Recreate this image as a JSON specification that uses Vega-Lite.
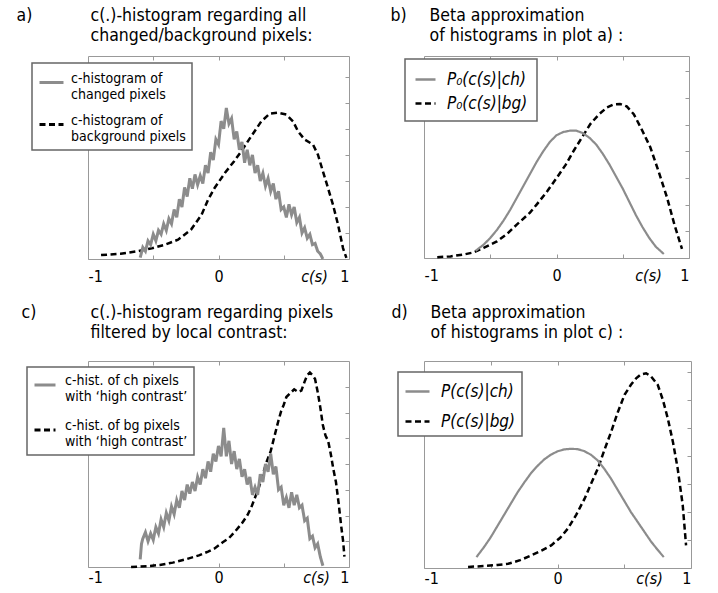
{
  "$schema": "https://vega.github.io/schema/vega-lite/v6.json",
  "padding": {"left": 16, "top": 6, "right": 0, "bottom": 0},
  "config": {
    "font": "DejaVu Sans Condensed",
    "view": {"stroke": null},
    "axis": {"domainColor": "#999999", "tickColor": "#999999", "grid": false, "labelFontSize": 16, "labelColor": "#000000", "titleColor": "#000000", "titleFontSize": 17.5, "titleFontWeight": "normal", "titleLineHeight": 20.5, "labelPadding": 13},
    "legend": {"orient": "none", "fillColor": "#ffffff", "strokeColor": "#666666", "strokeWidth": 1.5, "padding": 6, "title": null, "labelLimit": 300, "labelColor": "#000000"}
  },
  "datasets": {
    "a": [
      {"x": -0.60, "y": 0.05, "s": "ch"}, {"x": -0.58, "y": 0.45, "s": "ch"}, {"x": -0.56, "y": 0.3, "s": "ch"}, {"x": -0.54, "y": 0.7, "s": "ch"}, {"x": -0.52, "y": 0.55, "s": "ch"}, {"x": -0.50, "y": 0.95, "s": "ch"}, {"x": -0.48, "y": 0.7, "s": "ch"}, {"x": -0.46, "y": 1.1, "s": "ch"}, {"x": -0.44, "y": 0.95, "s": "ch"}, {"x": -0.42, "y": 1.35, "s": "ch"}, {"x": -0.40, "y": 1.1, "s": "ch"}, {"x": -0.38, "y": 1.55, "s": "ch"}, {"x": -0.36, "y": 1.35, "s": "ch"}, {"x": -0.34, "y": 1.9, "s": "ch"}, {"x": -0.32, "y": 1.6, "s": "ch"}, {"x": -0.30, "y": 2.3, "s": "ch"}, {"x": -0.28, "y": 2.0, "s": "ch"}, {"x": -0.26, "y": 2.75, "s": "ch"}, {"x": -0.24, "y": 2.4, "s": "ch"}, {"x": -0.22, "y": 3.1, "s": "ch"}, {"x": -0.20, "y": 2.7, "s": "ch"}, {"x": -0.18, "y": 3.25, "s": "ch"}, {"x": -0.16, "y": 2.85, "s": "ch"}, {"x": -0.14, "y": 3.2, "s": "ch"}, {"x": -0.12, "y": 2.9, "s": "ch"}, {"x": -0.10, "y": 3.6, "s": "ch"}, {"x": -0.08, "y": 3.3, "s": "ch"}, {"x": -0.06, "y": 4.1, "s": "ch"}, {"x": -0.04, "y": 3.8, "s": "ch"}, {"x": -0.02, "y": 4.6, "s": "ch"}, {"x": 0.00, "y": 4.4, "s": "ch"}, {"x": 0.02, "y": 5.3, "s": "ch"}, {"x": 0.04, "y": 5.0, "s": "ch"}, {"x": 0.06, "y": 5.8, "s": "ch"}, {"x": 0.08, "y": 5.2, "s": "ch"}, {"x": 0.10, "y": 5.4, "s": "ch"}, {"x": 0.12, "y": 4.6, "s": "ch"}, {"x": 0.14, "y": 4.9, "s": "ch"}, {"x": 0.16, "y": 4.2, "s": "ch"}, {"x": 0.18, "y": 4.5, "s": "ch"}, {"x": 0.20, "y": 3.7, "s": "ch"}, {"x": 0.22, "y": 4.2, "s": "ch"}, {"x": 0.24, "y": 3.6, "s": "ch"}, {"x": 0.26, "y": 4.0, "s": "ch"}, {"x": 0.28, "y": 3.3, "s": "ch"}, {"x": 0.30, "y": 3.6, "s": "ch"}, {"x": 0.32, "y": 3.0, "s": "ch"}, {"x": 0.34, "y": 3.3, "s": "ch"}, {"x": 0.36, "y": 2.8, "s": "ch"}, {"x": 0.38, "y": 3.1, "s": "ch"}, {"x": 0.40, "y": 2.6, "s": "ch"}, {"x": 0.42, "y": 2.9, "s": "ch"}, {"x": 0.44, "y": 2.3, "s": "ch"}, {"x": 0.46, "y": 2.6, "s": "ch"}, {"x": 0.48, "y": 1.9, "s": "ch"}, {"x": 0.50, "y": 2.0, "s": "ch"}, {"x": 0.52, "y": 1.6, "s": "ch"}, {"x": 0.54, "y": 2.1, "s": "ch"}, {"x": 0.56, "y": 1.7, "s": "ch"}, {"x": 0.58, "y": 2.0, "s": "ch"}, {"x": 0.60, "y": 1.4, "s": "ch"}, {"x": 0.62, "y": 1.6, "s": "ch"}, {"x": 0.64, "y": 1.0, "s": "ch"}, {"x": 0.66, "y": 1.2, "s": "ch"}, {"x": 0.68, "y": 0.8, "s": "ch"}, {"x": 0.70, "y": 0.95, "s": "ch"}, {"x": 0.72, "y": 0.55, "s": "ch"}, {"x": 0.74, "y": 0.6, "s": "ch"}, {"x": 0.76, "y": 0.3, "s": "ch"}, {"x": 0.78, "y": 0.2, "s": "ch"}, {"x": 0.80, "y": 0.0, "s": "ch"},
      {"x": -0.90, "y": 0.15, "s": "bg"}, {"x": -0.75, "y": 0.2, "s": "bg"}, {"x": -0.62, "y": 0.3, "s": "bg"}, {"x": -0.52, "y": 0.4, "s": "bg"}, {"x": -0.41, "y": 0.55, "s": "bg"}, {"x": -0.31, "y": 0.74, "s": "bg"}, {"x": -0.21, "y": 1.13, "s": "bg"}, {"x": -0.13, "y": 1.7, "s": "bg"}, {"x": -0.08, "y": 2.28, "s": "bg"}, {"x": -0.03, "y": 2.73, "s": "bg"}, {"x": 0.05, "y": 3.31, "s": "bg"}, {"x": 0.12, "y": 3.76, "s": "bg"}, {"x": 0.175, "y": 4.14, "s": "bg"}, {"x": 0.226, "y": 4.53, "s": "bg"}, {"x": 0.277, "y": 4.91, "s": "bg"}, {"x": 0.328, "y": 5.29, "s": "bg"}, {"x": 0.392, "y": 5.58, "s": "bg"}, {"x": 0.456, "y": 5.62, "s": "bg"}, {"x": 0.52, "y": 5.55, "s": "bg"}, {"x": 0.571, "y": 5.29, "s": "bg"}, {"x": 0.609, "y": 4.91, "s": "bg"}, {"x": 0.66, "y": 4.59, "s": "bg"}, {"x": 0.724, "y": 4.4, "s": "bg"}, {"x": 0.762, "y": 4.01, "s": "bg"}, {"x": 0.80, "y": 3.37, "s": "bg"}, {"x": 0.839, "y": 2.73, "s": "bg"}, {"x": 0.877, "y": 2.09, "s": "bg"}, {"x": 0.916, "y": 1.32, "s": "bg"}, {"x": 0.954, "y": 0.42, "s": "bg"}, {"x": 0.98, "y": 0.04, "s": "bg"}
    ],
    "b": [
      {"x": -0.61, "y": 0.27, "s": "ch"}, {"x": -0.55, "y": 0.5, "s": "ch"}, {"x": -0.50, "y": 0.75, "s": "ch"}, {"x": -0.45, "y": 1.05, "s": "ch"}, {"x": -0.40, "y": 1.4, "s": "ch"}, {"x": -0.35, "y": 1.8, "s": "ch"}, {"x": -0.30, "y": 2.25, "s": "ch"}, {"x": -0.25, "y": 2.7, "s": "ch"}, {"x": -0.20, "y": 3.15, "s": "ch"}, {"x": -0.15, "y": 3.6, "s": "ch"}, {"x": -0.10, "y": 4.0, "s": "ch"}, {"x": -0.05, "y": 4.35, "s": "ch"}, {"x": 0.00, "y": 4.6, "s": "ch"}, {"x": 0.05, "y": 4.72, "s": "ch"}, {"x": 0.10, "y": 4.77, "s": "ch"}, {"x": 0.15, "y": 4.77, "s": "ch"}, {"x": 0.20, "y": 4.68, "s": "ch"}, {"x": 0.25, "y": 4.5, "s": "ch"}, {"x": 0.30, "y": 4.25, "s": "ch"}, {"x": 0.35, "y": 3.9, "s": "ch"}, {"x": 0.40, "y": 3.5, "s": "ch"}, {"x": 0.45, "y": 3.05, "s": "ch"}, {"x": 0.50, "y": 2.6, "s": "ch"}, {"x": 0.55, "y": 2.1, "s": "ch"}, {"x": 0.60, "y": 1.6, "s": "ch"}, {"x": 0.65, "y": 1.15, "s": "ch"}, {"x": 0.70, "y": 0.75, "s": "ch"}, {"x": 0.75, "y": 0.42, "s": "ch"}, {"x": 0.81, "y": 0.15, "s": "ch"},
      {"x": -0.90, "y": 0.03, "s": "bg"}, {"x": -0.80, "y": 0.06, "s": "bg"}, {"x": -0.70, "y": 0.13, "s": "bg"}, {"x": -0.625, "y": 0.21, "s": "bg"}, {"x": -0.55, "y": 0.38, "s": "bg"}, {"x": -0.45, "y": 0.62, "s": "bg"}, {"x": -0.374, "y": 0.9, "s": "bg"}, {"x": -0.30, "y": 1.25, "s": "bg"}, {"x": -0.20, "y": 1.7, "s": "bg"}, {"x": -0.147, "y": 2.02, "s": "bg"}, {"x": -0.07, "y": 2.5, "s": "bg"}, {"x": 0.004, "y": 3.02, "s": "bg"}, {"x": 0.07, "y": 3.5, "s": "bg"}, {"x": 0.13, "y": 4.02, "s": "bg"}, {"x": 0.19, "y": 4.5, "s": "bg"}, {"x": 0.255, "y": 5.02, "s": "bg"}, {"x": 0.32, "y": 5.38, "s": "bg"}, {"x": 0.38, "y": 5.64, "s": "bg"}, {"x": 0.43, "y": 5.75, "s": "bg"}, {"x": 0.48, "y": 5.77, "s": "bg"}, {"x": 0.53, "y": 5.68, "s": "bg"}, {"x": 0.583, "y": 5.39, "s": "bg"}, {"x": 0.64, "y": 4.85, "s": "bg"}, {"x": 0.708, "y": 4.15, "s": "bg"}, {"x": 0.77, "y": 3.25, "s": "bg"}, {"x": 0.834, "y": 2.27, "s": "bg"}, {"x": 0.89, "y": 1.25, "s": "bg"}, {"x": 0.947, "y": 0.34, "s": "bg"}
    ],
    "c": [
      {"x": -0.60, "y": 0.3, "s": "ch"}, {"x": -0.59, "y": 0.9, "s": "ch"}, {"x": -0.58, "y": 1.1, "s": "ch"}, {"x": -0.56, "y": 1.35, "s": "ch"}, {"x": -0.54, "y": 1.0, "s": "ch"}, {"x": -0.52, "y": 1.3, "s": "ch"}, {"x": -0.50, "y": 1.05, "s": "ch"}, {"x": -0.48, "y": 1.55, "s": "ch"}, {"x": -0.46, "y": 1.3, "s": "ch"}, {"x": -0.44, "y": 1.85, "s": "ch"}, {"x": -0.42, "y": 1.55, "s": "ch"}, {"x": -0.40, "y": 2.1, "s": "ch"}, {"x": -0.38, "y": 1.8, "s": "ch"}, {"x": -0.36, "y": 2.35, "s": "ch"}, {"x": -0.34, "y": 2.05, "s": "ch"}, {"x": -0.32, "y": 2.6, "s": "ch"}, {"x": -0.30, "y": 2.3, "s": "ch"}, {"x": -0.28, "y": 2.95, "s": "ch"}, {"x": -0.26, "y": 2.6, "s": "ch"}, {"x": -0.24, "y": 3.2, "s": "ch"}, {"x": -0.22, "y": 2.85, "s": "ch"}, {"x": -0.20, "y": 3.3, "s": "ch"}, {"x": -0.18, "y": 2.95, "s": "ch"}, {"x": -0.16, "y": 3.5, "s": "ch"}, {"x": -0.14, "y": 3.2, "s": "ch"}, {"x": -0.12, "y": 3.8, "s": "ch"}, {"x": -0.10, "y": 3.45, "s": "ch"}, {"x": -0.08, "y": 4.1, "s": "ch"}, {"x": -0.06, "y": 3.7, "s": "ch"}, {"x": -0.04, "y": 4.4, "s": "ch"}, {"x": -0.02, "y": 4.1, "s": "ch"}, {"x": 0.00, "y": 4.7, "s": "ch"}, {"x": 0.02, "y": 4.3, "s": "ch"}, {"x": 0.04, "y": 5.4, "s": "ch"}, {"x": 0.06, "y": 4.3, "s": "ch"}, {"x": 0.08, "y": 4.9, "s": "ch"}, {"x": 0.10, "y": 4.0, "s": "ch"}, {"x": 0.12, "y": 4.5, "s": "ch"}, {"x": 0.14, "y": 3.8, "s": "ch"}, {"x": 0.16, "y": 4.2, "s": "ch"}, {"x": 0.18, "y": 3.5, "s": "ch"}, {"x": 0.20, "y": 3.8, "s": "ch"}, {"x": 0.22, "y": 3.2, "s": "ch"}, {"x": 0.24, "y": 3.5, "s": "ch"}, {"x": 0.26, "y": 2.8, "s": "ch"}, {"x": 0.28, "y": 3.1, "s": "ch"}, {"x": 0.30, "y": 2.8, "s": "ch"}, {"x": 0.32, "y": 3.6, "s": "ch"}, {"x": 0.34, "y": 3.3, "s": "ch"}, {"x": 0.36, "y": 4.0, "s": "ch"}, {"x": 0.38, "y": 3.7, "s": "ch"}, {"x": 0.40, "y": 4.4, "s": "ch"}, {"x": 0.42, "y": 3.6, "s": "ch"}, {"x": 0.44, "y": 3.9, "s": "ch"}, {"x": 0.46, "y": 3.0, "s": "ch"}, {"x": 0.48, "y": 3.1, "s": "ch"}, {"x": 0.50, "y": 2.4, "s": "ch"}, {"x": 0.52, "y": 2.7, "s": "ch"}, {"x": 0.54, "y": 2.3, "s": "ch"}, {"x": 0.56, "y": 2.9, "s": "ch"}, {"x": 0.58, "y": 2.4, "s": "ch"}, {"x": 0.60, "y": 2.8, "s": "ch"}, {"x": 0.62, "y": 2.3, "s": "ch"}, {"x": 0.64, "y": 2.4, "s": "ch"}, {"x": 0.66, "y": 1.8, "s": "ch"}, {"x": 0.68, "y": 1.9, "s": "ch"}, {"x": 0.70, "y": 1.1, "s": "ch"}, {"x": 0.72, "y": 1.2, "s": "ch"}, {"x": 0.74, "y": 0.75, "s": "ch"}, {"x": 0.76, "y": 0.9, "s": "ch"}, {"x": 0.78, "y": 0.4, "s": "ch"}, {"x": 0.80, "y": 0.05, "s": "ch"},
      {"x": -0.67, "y": 0.0, "s": "bg"}, {"x": -0.55, "y": 0.03, "s": "bg"}, {"x": -0.45, "y": 0.08, "s": "bg"}, {"x": -0.35, "y": 0.17, "s": "bg"}, {"x": -0.25, "y": 0.3, "s": "bg"}, {"x": -0.15, "y": 0.45, "s": "bg"}, {"x": -0.08, "y": 0.6, "s": "bg"}, {"x": -0.03, "y": 0.72, "s": "bg"}, {"x": 0.03, "y": 0.95, "s": "bg"}, {"x": 0.08, "y": 1.12, "s": "bg"}, {"x": 0.13, "y": 1.4, "s": "bg"}, {"x": 0.18, "y": 1.7, "s": "bg"}, {"x": 0.22, "y": 2.0, "s": "bg"}, {"x": 0.25, "y": 2.3, "s": "bg"}, {"x": 0.28, "y": 2.7, "s": "bg"}, {"x": 0.31, "y": 3.1, "s": "bg"}, {"x": 0.34, "y": 3.6, "s": "bg"}, {"x": 0.37, "y": 4.1, "s": "bg"}, {"x": 0.40, "y": 4.5, "s": "bg"}, {"x": 0.43, "y": 5.1, "s": "bg"}, {"x": 0.46, "y": 5.7, "s": "bg"}, {"x": 0.48, "y": 6.05, "s": "bg"}, {"x": 0.50, "y": 6.3, "s": "bg"}, {"x": 0.52, "y": 6.6, "s": "bg"}, {"x": 0.55, "y": 6.75, "s": "bg"}, {"x": 0.58, "y": 6.9, "s": "bg"}, {"x": 0.61, "y": 6.8, "s": "bg"}, {"x": 0.635, "y": 6.85, "s": "bg"}, {"x": 0.66, "y": 7.2, "s": "bg"}, {"x": 0.68, "y": 7.45, "s": "bg"}, {"x": 0.70, "y": 7.55, "s": "bg"}, {"x": 0.72, "y": 7.45, "s": "bg"}, {"x": 0.74, "y": 7.3, "s": "bg"}, {"x": 0.76, "y": 6.8, "s": "bg"}, {"x": 0.78, "y": 6.2, "s": "bg"}, {"x": 0.80, "y": 5.5, "s": "bg"}, {"x": 0.82, "y": 5.1, "s": "bg"}, {"x": 0.84, "y": 4.9, "s": "bg"}, {"x": 0.86, "y": 4.4, "s": "bg"}, {"x": 0.88, "y": 3.8, "s": "bg"}, {"x": 0.90, "y": 3.3, "s": "bg"}, {"x": 0.92, "y": 2.5, "s": "bg"}, {"x": 0.94, "y": 1.6, "s": "bg"}, {"x": 0.955, "y": 1.0, "s": "bg"}, {"x": 0.965, "y": 0.4, "s": "bg"}
    ],
    "d": [
      {"x": -0.607, "y": 0.39, "s": "ch"}, {"x": -0.55, "y": 0.75, "s": "ch"}, {"x": -0.50, "y": 1.1, "s": "ch"}, {"x": -0.45, "y": 1.5, "s": "ch"}, {"x": -0.40, "y": 1.9, "s": "ch"}, {"x": -0.35, "y": 2.3, "s": "ch"}, {"x": -0.30, "y": 2.7, "s": "ch"}, {"x": -0.25, "y": 3.05, "s": "ch"}, {"x": -0.20, "y": 3.38, "s": "ch"}, {"x": -0.15, "y": 3.65, "s": "ch"}, {"x": -0.10, "y": 3.88, "s": "ch"}, {"x": -0.05, "y": 4.05, "s": "ch"}, {"x": 0.00, "y": 4.17, "s": "ch"}, {"x": 0.05, "y": 4.24, "s": "ch"}, {"x": 0.10, "y": 4.26, "s": "ch"}, {"x": 0.15, "y": 4.25, "s": "ch"}, {"x": 0.20, "y": 4.18, "s": "ch"}, {"x": 0.25, "y": 4.05, "s": "ch"}, {"x": 0.30, "y": 3.85, "s": "ch"}, {"x": 0.35, "y": 3.55, "s": "ch"}, {"x": 0.40, "y": 3.2, "s": "ch"}, {"x": 0.45, "y": 2.8, "s": "ch"}, {"x": 0.50, "y": 2.4, "s": "ch"}, {"x": 0.55, "y": 2.0, "s": "ch"}, {"x": 0.60, "y": 1.65, "s": "ch"}, {"x": 0.65, "y": 1.3, "s": "ch"}, {"x": 0.70, "y": 0.95, "s": "ch"}, {"x": 0.75, "y": 0.65, "s": "ch"}, {"x": 0.796, "y": 0.39, "s": "ch"},
      {"x": -0.67, "y": 0.04, "s": "bg"}, {"x": -0.55, "y": 0.07, "s": "bg"}, {"x": -0.45, "y": 0.11, "s": "bg"}, {"x": -0.37, "y": 0.15, "s": "bg"}, {"x": -0.28, "y": 0.28, "s": "bg"}, {"x": -0.196, "y": 0.45, "s": "bg"}, {"x": -0.12, "y": 0.62, "s": "bg"}, {"x": -0.047, "y": 0.81, "s": "bg"}, {"x": 0.02, "y": 1.08, "s": "bg"}, {"x": 0.078, "y": 1.41, "s": "bg"}, {"x": 0.14, "y": 1.9, "s": "bg"}, {"x": 0.203, "y": 2.48, "s": "bg"}, {"x": 0.25, "y": 3.0, "s": "bg"}, {"x": 0.303, "y": 3.56, "s": "bg"}, {"x": 0.35, "y": 4.2, "s": "bg"}, {"x": 0.402, "y": 4.87, "s": "bg"}, {"x": 0.45, "y": 5.55, "s": "bg"}, {"x": 0.502, "y": 6.19, "s": "bg"}, {"x": 0.55, "y": 6.55, "s": "bg"}, {"x": 0.589, "y": 6.78, "s": "bg"}, {"x": 0.625, "y": 6.92, "s": "bg"}, {"x": 0.664, "y": 6.96, "s": "bg"}, {"x": 0.70, "y": 6.85, "s": "bg"}, {"x": 0.751, "y": 6.55, "s": "bg"}, {"x": 0.79, "y": 6.0, "s": "bg"}, {"x": 0.826, "y": 5.35, "s": "bg"}, {"x": 0.865, "y": 4.5, "s": "bg"}, {"x": 0.90, "y": 3.56, "s": "bg"}, {"x": 0.938, "y": 2.25, "s": "bg"}, {"x": 0.963, "y": 0.81, "s": "bg"}
    ]
  },
  "columns": 2,
  "align": {"row": "none", "column": "each"},
  "spacing": {"row": 19, "column": 38},
  "concat": [
    {
      "width": 261, "height": 203,
      "data": {"name": "a"},
      "encoding": {
        "color": {"field": "s", "type": "nominal", "scale": {"domain": ["ch", "bg"], "range": ["#8c8c8c", "#000000"]}, "legend": {"legendX": -56, "legendY": 7, "labelFontSize": 14, "labelBaseline": "alphabetic", "labelOffset": 6, "symbolStrokeWidth": 3, "symbolSize": 576, "rowPadding": 9, "encoding": {"labels": {"update": {"lineHeight": {"value": 17}}}}, "labelExpr": "datum.value == 'ch' ? ['c-histogram of', 'changed pixels'] : ['c-histogram of', 'background pixels']"}},
        "strokeDash": {"field": "s", "type": "nominal", "scale": {"domain": ["ch", "bg"], "range": [[1, 0], [6, 3.5]]}, "legend": {"legendX": -56, "legendY": 7, "labelFontSize": 14, "labelBaseline": "alphabetic", "labelOffset": 6, "symbolStrokeWidth": 3, "symbolSize": 576, "rowPadding": 9, "encoding": {"labels": {"update": {"lineHeight": {"value": 17}}}}, "labelExpr": "datum.value == 'ch' ? ['c-histogram of', 'changed pixels'] : ['c-histogram of', 'background pixels']"}}
      },
      "layer": [
        {
          "transform": [{"filter": "datum.s == 'bg'"}],
          "mark": {"type": "line", "strokeWidth": 2.5},
          "encoding": {
            "x": {"field": "x", "type": "quantitative", "scale": {"domain": [-1, 1], "nice": false}, "axis": {"orient": "bottom", "values": [-1, -0.5, 0, 0.5, 1], "tickSize": -4, "labelExpr": "datum.value == -1 ? '-1' : datum.value == 0 ? '0' : datum.value == 1 ? '1' : ''", "title": "c(s)", "titleFontStyle": "italic", "titleFontSize": 16, "titleX": 226, "titleY": 9, "titleBaseline": "top", "titleAlign": "center"}},
            "y": {"field": "y", "type": "quantitative", "scale": {"domain": [0, 7.8], "nice": false}, "axis": {"orient": "left", "ticks": false, "labels": false, "title": "a)", "titleAngle": 0, "titleAlign": "left", "titleBaseline": "top", "titleX": -72, "titleY": -50}}
          }
        },
        {
          "transform": [{"filter": "datum.s == 'ch'"}],
          "mark": {"type": "line", "strokeWidth": 3},
          "encoding": {
            "x": {"field": "x", "type": "quantitative", "scale": {"domain": [-1, 1], "nice": false}, "axis": {"orient": "top", "values": [-0.5, 0, 0.5], "tickSize": -4, "labels": false, "title": ["c(.)-histogram regarding all", "changed/background pixels:"], "titleAngle": 0, "titleAlign": "left", "titleBaseline": "top", "titleX": 2, "titleY": -50}},
            "y": {"field": "y", "type": "quantitative", "scale": {"domain": [0, 7.8], "nice": false}, "axis": {"orient": "right", "values": [1, 2, 3, 4, 5, 6, 7], "tickSize": -4, "labels": false, "title": null}}
          }
        }
      ],
      "resolve": {"axis": {"x": "independent", "y": "independent"}}
    },
    {
      "width": 265, "height": 202,
      "data": {"name": "b"},
      "encoding": {
        "color": {"field": "s", "type": "nominal", "scale": {"domain": ["ch", "bg"], "range": ["#8c8c8c", "#000000"]}, "legend": {"legendX": -19, "legendY": 3, "padding": 9, "labelFontSize": 17, "labelFontStyle": "italic", "labelOffset": 10, "symbolStrokeWidth": 2.5, "symbolSize": 400, "rowPadding": 4, "labelExpr": "datum.value == 'ch' ? 'P₀(c(s)|ch)\u00a0' : 'P₀(c(s)|bg)\u00a0'"}},
        "strokeDash": {"field": "s", "type": "nominal", "scale": {"domain": ["ch", "bg"], "range": [[1, 0], [6, 3.5]]}, "legend": {"legendX": -19, "legendY": 3, "padding": 9, "labelFontSize": 17, "labelFontStyle": "italic", "labelOffset": 10, "symbolStrokeWidth": 2.5, "symbolSize": 400, "rowPadding": 4, "labelExpr": "datum.value == 'ch' ? 'P₀(c(s)|ch)\u00a0' : 'P₀(c(s)|bg)\u00a0'"}}
      },
      "layer": [
        {
          "transform": [{"filter": "datum.s == 'bg'"}],
          "mark": {"type": "line", "strokeWidth": 2.5},
          "encoding": {
            "x": {"field": "x", "type": "quantitative", "scale": {"domain": [-1, 1], "nice": false}, "axis": {"orient": "bottom", "values": [-1, -0.5, 0, 0.5, 1], "tickSize": -4, "labelExpr": "datum.value == -1 ? '-1' : datum.value == 0 ? '0' : datum.value == 1 ? '1' : ''", "title": "c(s)", "titleFontStyle": "italic", "titleFontSize": 16, "titleX": 224, "titleY": 9, "titleBaseline": "top", "titleAlign": "center"}},
            "y": {"field": "y", "type": "quantitative", "scale": {"domain": [0, 7.57], "nice": false}, "axis": {"orient": "left", "ticks": false, "labels": false, "title": "b)", "titleAngle": 0, "titleAlign": "left", "titleBaseline": "top", "titleX": -34, "titleY": -50}}
          }
        },
        {
          "transform": [{"filter": "datum.s == 'ch'"}],
          "mark": {"type": "line", "strokeWidth": 2.2},
          "encoding": {
            "x": {"field": "x", "type": "quantitative", "scale": {"domain": [-1, 1], "nice": false}, "axis": {"orient": "top", "values": [-0.5, 0, 0.5], "tickSize": -4, "labels": false, "title": ["Beta approximation", "of histograms in plot a) :"], "titleAngle": 0, "titleAlign": "left", "titleBaseline": "top", "titleX": 5, "titleY": -50}},
            "y": {"field": "y", "type": "quantitative", "scale": {"domain": [0, 7.57], "nice": false}, "axis": {"orient": "right", "values": [1, 2, 3, 4, 5, 6, 7], "tickSize": -4, "labels": false, "title": null}}
          }
        }
      ],
      "resolve": {"axis": {"x": "independent", "y": "independent"}}
    },
    {
      "width": 261, "height": 206,
      "data": {"name": "c"},
      "encoding": {
        "color": {"field": "s", "type": "nominal", "scale": {"domain": ["ch", "bg"], "range": ["#8c8c8c", "#000000"]}, "legend": {"legendX": -61, "legendY": 6, "padding": 6, "labelFontSize": 14, "labelBaseline": "alphabetic", "labelOffset": 8, "symbolStrokeWidth": 3, "symbolSize": 441, "rowPadding": 14, "encoding": {"labels": {"update": {"lineHeight": {"value": 16}}}}, "labelExpr": "datum.value == 'ch' ? ['c-hist. of ch pixels', 'with ‘high contrast’'] : ['c-hist. of bg pixels', 'with ‘high contrast’']"}},
        "strokeDash": {"field": "s", "type": "nominal", "scale": {"domain": ["ch", "bg"], "range": [[1, 0], [6, 3.5]]}, "legend": {"legendX": -61, "legendY": 6, "padding": 6, "labelFontSize": 14, "labelBaseline": "alphabetic", "labelOffset": 8, "symbolStrokeWidth": 3, "symbolSize": 441, "rowPadding": 14, "encoding": {"labels": {"update": {"lineHeight": {"value": 16}}}}, "labelExpr": "datum.value == 'ch' ? ['c-hist. of ch pixels', 'with ‘high contrast’'] : ['c-hist. of bg pixels', 'with ‘high contrast’']"}}
      },
      "layer": [
        {
          "transform": [{"filter": "datum.s == 'bg'"}],
          "mark": {"type": "line", "strokeWidth": 2.5},
          "encoding": {
            "x": {"field": "x", "type": "quantitative", "scale": {"domain": [-1, 1], "nice": false}, "axis": {"orient": "bottom", "values": [-1, -0.5, 0, 0.5, 1], "tickSize": -4, "labelPadding": 6.5, "labelExpr": "datum.value == -1 ? '-1' : datum.value == 0 ? '0' : datum.value == 1 ? '1' : ''", "title": "c(s)", "titleFontStyle": "italic", "titleFontSize": 16, "titleX": 228, "titleY": 2.5, "titleBaseline": "top", "titleAlign": "center"}},
            "y": {"field": "y", "type": "quantitative", "scale": {"domain": [0, 8], "nice": false}, "axis": {"orient": "left", "ticks": false, "labels": false, "title": "c)", "titleAngle": 0, "titleAlign": "left", "titleBaseline": "top", "titleX": -67, "titleY": -58}}
          }
        },
        {
          "transform": [{"filter": "datum.s == 'ch'"}],
          "mark": {"type": "line", "strokeWidth": 3},
          "encoding": {
            "x": {"field": "x", "type": "quantitative", "scale": {"domain": [-1, 1], "nice": false}, "axis": {"orient": "top", "values": [-0.5, 0, 0.5], "tickSize": -4, "labels": false, "title": ["c(.)-histogram regarding pixels", "filtered by local contrast:"], "titleAngle": 0, "titleAlign": "left", "titleBaseline": "top", "titleX": 2, "titleY": -58}},
            "y": {"field": "y", "type": "quantitative", "scale": {"domain": [0, 8], "nice": false}, "axis": {"orient": "right", "values": [1, 2, 3, 4, 5, 6, 7], "tickSize": -4, "labels": false, "title": null}}
          }
        }
      ],
      "resolve": {"axis": {"x": "independent", "y": "independent"}}
    },
    {
      "width": 267, "height": 207,
      "data": {"name": "d"},
      "encoding": {
        "color": {"field": "s", "type": "nominal", "scale": {"domain": ["ch", "bg"], "range": ["#8c8c8c", "#000000"]}, "legend": {"legendX": -26, "legendY": 11, "padding": 6, "labelFontSize": 17, "labelFontStyle": "italic", "labelOffset": 10, "symbolStrokeWidth": 2.5, "symbolSize": 576, "rowPadding": 8, "labelExpr": "datum.value == 'ch' ? 'P(c(s)|ch)\u00a0' : 'P(c(s)|bg)\u00a0'"}},
        "strokeDash": {"field": "s", "type": "nominal", "scale": {"domain": ["ch", "bg"], "range": [[1, 0], [6, 3.5]]}, "legend": {"legendX": -26, "legendY": 11, "padding": 6, "labelFontSize": 17, "labelFontStyle": "italic", "labelOffset": 10, "symbolStrokeWidth": 2.5, "symbolSize": 576, "rowPadding": 8, "labelExpr": "datum.value == 'ch' ? 'P(c(s)|ch)\u00a0' : 'P(c(s)|bg)\u00a0'"}}
      },
      "layer": [
        {
          "transform": [{"filter": "datum.s == 'bg'"}],
          "mark": {"type": "line", "strokeWidth": 2.5},
          "encoding": {
            "x": {"field": "x", "type": "quantitative", "scale": {"domain": [-1, 1], "nice": false}, "axis": {"orient": "bottom", "values": [-1, -0.5, 0, 0.5, 1], "tickSize": -4, "labelPadding": 6.5, "labelExpr": "datum.value == -1 ? '-1' : datum.value == 0 ? '0' : datum.value == 1 ? '1' : ''", "title": "c(s)", "titleFontStyle": "italic", "titleFontSize": 16, "titleX": 225, "titleY": 2.5, "titleBaseline": "top", "titleAlign": "center"}},
            "y": {"field": "y", "type": "quantitative", "scale": {"domain": [0, 7.4], "nice": false}, "axis": {"orient": "left", "ticks": false, "labels": false, "title": "d)", "titleAngle": 0, "titleAlign": "left", "titleBaseline": "top", "titleX": -33, "titleY": -58}}
          }
        },
        {
          "transform": [{"filter": "datum.s == 'ch'"}],
          "mark": {"type": "line", "strokeWidth": 2.2},
          "encoding": {
            "x": {"field": "x", "type": "quantitative", "scale": {"domain": [-1, 1], "nice": false}, "axis": {"orient": "top", "values": [-0.5, 0, 0.5], "tickSize": -4, "labels": false, "title": ["Beta approximation", "of histograms in plot c) :"], "titleAngle": 0, "titleAlign": "left", "titleBaseline": "top", "titleX": 6, "titleY": -58}},
            "y": {"field": "y", "type": "quantitative", "scale": {"domain": [0, 7.4], "nice": false}, "axis": {"orient": "right", "values": [1, 2, 3, 4, 5, 6, 7], "tickSize": -4, "labels": false, "title": null}}
          }
        }
      ],
      "resolve": {"axis": {"x": "independent", "y": "independent"}}
    }
  ],
  "resolve": {"scale": {"color": "independent", "strokeDash": "independent"}, "legend": {"color": "independent", "strokeDash": "independent"}}
}
